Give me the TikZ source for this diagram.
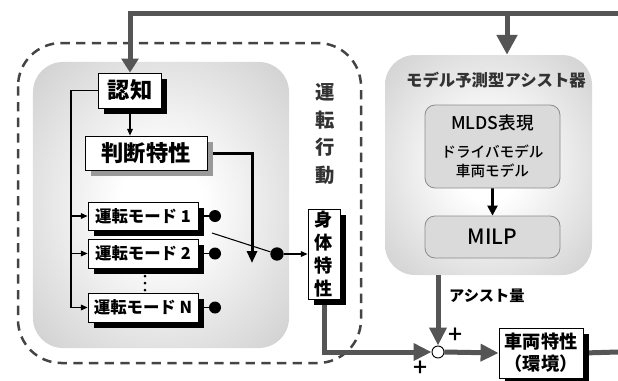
\documentclass[tikz,border=0pt]{standalone}
\usepackage{fontspec}
\setmainfont{Noto Sans CJK JP}
\newfontfamily\jpmed{Noto Sans CJK JP Medium}
\usetikzlibrary{arrows.meta,shadows}
\definecolor{fatgray}{HTML}{555555}
\definecolor{boxgray}{HTML}{DADADA}
\definecolor{edgegray}{HTML}{8C8C8C}
\definecolor{txtgray}{HTML}{333333}
\definecolor{dashgray}{HTML}{444444}
\pgfdeclarelayer{bg}
\pgfdeclarelayer{fg}
\pgfsetlayers{bg,main,fg}
\pgfdeclareradialshading{softrad}{\pgfpoint{0bp}{0bp}}{color(0bp)=(white); color(8bp)=(white); color(52bp)=(gray!60); color(75bp)=(gray!60)}
\begin{document}
\begin{tikzpicture}[x=0.03cm,y=-0.03cm,
  jf/.style={font=\bfseries\fontsize{#1}{#1}\selectfont},
  rf/.style={font=\jpmed\fontsize{#1}{#1}\selectfont},
  box/.style={draw=black,line width=0.7pt,fill=white,inner sep=0pt,align=center},
  bshadow/.style={general shadow={shadow xshift=0.17cm,shadow yshift=-0.17cm,fill=black}},
  gshadow/.style={general shadow={shadow xshift=0.17cm,shadow yshift=-0.17cm,fill=gray!80}},
  fat/.style={draw=fatgray,line width=0.15cm},
  wire/.style={draw=black,line width=0.9pt},
  tipS/.style={-{Triangle[length=0.2cm,width=0.17cm]}},
  tipF/.style={-{Triangle[length=0.54cm,width=0.5cm]}},
  dot/.style={circle,fill=black,inner sep=0pt,minimum size=0.36cm},
  gbox/.style={draw=edgegray,fill=boxgray,line width=0.7pt,rounded corners=0.3cm,minimum width=4.05cm},
  plus/.style={font=\jpmed\fontsize{21}{21}\selectfont,inner sep=0pt}
]
\useasboundingbox (0,0) rectangle (618,380);
% ---------- background layer ----------
\begin{pgfonlayer}{bg}
  \draw[draw=dashgray,line width=0.075cm,dash pattern=on 0.28cm off 0.19cm,rounded corners=1.3cm]
    (18,43) rectangle (361,363);
  \node[rounded corners=0.9cm,shading=softrad,minimum width=7.68cm,minimum height=8.58cm] (drv) at (161,205) {};
  \node[rounded corners=0.9cm,shading=softrad,minimum width=6.21cm,minimum height=6.6cm] (assist) at (488.5,165) {};
\end{pgfonlayer}
% ---------- foreground boxes ----------
\begin{pgfonlayer}{fg}
  \node[box,bshadow,jf=19,minimum width=1.89cm,minimum height=1.05cm] (ninchi) at (130,90.5) {認知};
  \node[box,gshadow,jf=19,minimum width=3.66cm,minimum height=1.02cm] (handan) at (146,153) {判断特性};
  \node[box,bshadow,jf=14,minimum width=3.3cm,minimum height=0.84cm] (m1) at (143,216) {運転モード 1};
  \node[box,bshadow,jf=14,minimum width=3.3cm,minimum height=0.87cm] (m2) at (143,253.5) {運転モード 2};
  \node[box,bshadow,jf=14,minimum width=3.3cm,minimum height=0.87cm] (mN) at (143,307.5) {運転モード N};
  \node[dot] (d1) at (215,216) {};
  \node[dot] (d2) at (215,253.5) {};
  \node[dot] (dN) at (215,307.5) {};
  \node[dot,minimum size=0.4cm] (sd) at (277,254) {};
  \node[box,bshadow,minimum width=0.96cm,minimum height=2.7cm,font=\bfseries\fontsize{15.5}{19.5}\selectfont] (karada) at (324,254) {身\\体\\特\\性};
  \node[text=txtgray,align=center,font=\bfseries\fontsize{16.5}{23.5}\selectfont] (unten) at (325,134) {運\\転\\行\\動};
  \node[jf=14,text=txtgray] (atitle) at (496,80) {モデル予測型アシスト器};
  \node[gbox,minimum height=2.49cm] (mlds) at (492.5,146.5) {};
  \node[rf=15] (mldst) at (492.5,123) {MLDS表現};
  \node[align=center,font=\jpmed\fontsize{12.5}{16}\selectfont] (drvm) at (492.5,161) {ドライバモデル\\車両モデル};
  \node[gbox,minimum height=1.26cm,rf=18] (milp) at (492.5,237) {MILP};
  \node[circle,draw=black,fill=white,line width=0.8pt,minimum size=0.36cm,inner sep=0pt] (sum) at (438,352) {};
  \node[box,bshadow,minimum width=2.52cm,minimum height=1.5cm,font=\bfseries\fontsize{15.5}{19}\selectfont] (veh) at (541,353) {車両特性\\（環境）};
  \node[jf=13,anchor=west] (aryou) at (445,296) {アシスト量};
  \node[plus] (p1) at (456,336) {+};
  \node[plus] (p2) at (421,369) {+};
  \foreach \yy in {276,283,290} \fill (145,\yy) circle[radius=0.045cm];
\end{pgfonlayer}
% ---------- coordinates ----------
\coordinate (tr) at (618,13);
\coordinate (ta) at (507,13);
\coordinate (rt) at (618,352);
\coordinate (lx) at (71,0);
\coordinate (jd) at (252,263);
\coordinate (sw) at (212,233);
% ---------- connectors ----------
\draw[fat,-{Triangle[length=0.42cm,width=0.5cm]}] (tr) -| (ninchi.north);
\draw[fat,-{Triangle[length=0.6cm,width=0.6cm]}] (ta) -- (ta |- assist.north);
\draw[fat,tipF] (assist.south -| sum) -- (sum.north);
\draw[fat,tipF] (karada.south) |- (sum.west);
\draw[fat,tipF] (sum.east) -- (veh.west);
\draw[fat] (veh.east) -- (rt);
\draw[wire,tipS] (ninchi.south) -- (ninchi.south |- handan.north);
\draw[wire] (ninchi.west) -- (ninchi.west -| lx) -- (mN.west -| lx);
\draw[wire,tipS] (m1.west -| lx) -- (m1.west);
\draw[wire,tipS] (m2.west -| lx) -- (m2.west);
\draw[wire,tipS] (mN.west -| lx) -- (mN.west);
\draw[line width=0.09cm,-{Triangle[length=0.36cm,width=0.3cm]}] (handan.east) -| (jd);
\draw[wire] (m1.east) -- (d1);
\draw[wire] (m2.east) -- (d2);
\draw[wire] (mN.east) -- (dN);
\draw[wire] (sw) -- (sd);
\draw[wire,tipS] (sd) -- (karada.west);
\draw[line width=0.07cm,-{Triangle[length=0.3cm,width=0.3cm]}] (mlds) -- (milp);
\end{tikzpicture}
\end{document}
